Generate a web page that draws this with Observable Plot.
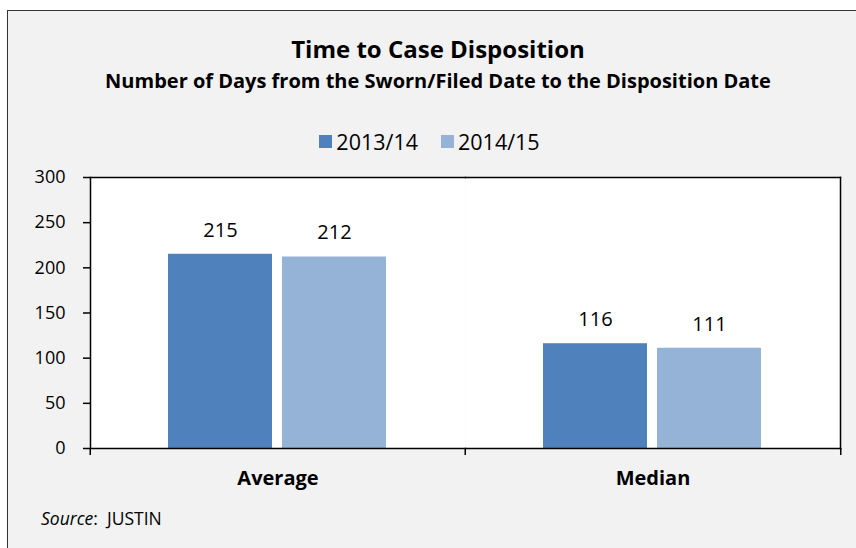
<!DOCTYPE html>
<html>
<head>
<meta charset="utf-8">
<script src="https://cdn.jsdelivr.net/npm/d3@7"></script>
<script src="https://cdn.jsdelivr.net/npm/@observablehq/plot@0.6"></script>
<style>
  html, body { margin: 0; padding: 0; background: #fff; overflow: hidden; width: 856px; height: 548px; }
  #box { position: absolute; left: 7px; top: 10px; width: 900px; height: 560px; background: #f2f2f2;
         border: 1px solid #333; box-sizing: border-box; font-family: "Open Sans", sans-serif; color: #000; }
  #title { position: absolute; left: 0; width: 860px; top: 22px; line-height: 32px; text-align: center;
           font-size: 24px; font-weight: bold; }
  #subtitle { position: absolute; left: 0; width: 860px; top: 57px; line-height: 26px; text-align: center;
              font-size: 20px; font-weight: bold; }
  #legend { position: absolute; left: 0; width: 843px; top: 116px; height: 26px; }
  #chart { position: absolute; left: -8px; top: 149px; }
  #source { position: absolute; left: 33px; top: 495px; line-height: 24px; font-size: 17.5px; white-space: pre; }
  .lg-swatches { display: flex !important; justify-content: center; font-family: "Open Sans", sans-serif !important;
                 font-size: 21.5px !important; color: #000; margin: 0 !important; min-height: 26px !important; }
  .lg-swatch { margin-right: 23px !important; }
  .lg-swatch:last-child { margin-right: 0 !important; }
  .lg-swatch > svg { margin-right: 4px !important; }
</style>
</head>
<body>
<div id="box">
  <div id="title"></div>
  <div id="subtitle"></div>
  <div id="legend"></div>
  <div id="chart"></div>
  <div id="source"></div>
</div>
<script>
const titleText = "Time to Case Disposition";
const subtitleText = "Number of Days from the Sworn/Filed Date to the Disposition Date";
const sourceLabel = "Source";
const sourceText = ":  JUSTIN";
const categories = ["Average", "Median"];
const seriesNames = ["2013/14", "2014/15"];
const values2013 = [215, 116];
const values2014 = [212, 111];
const yTicks = [0, 50, 100, 150, 200, 250, 300];
const colors = ["#4f81bd", "#95b3d7"];

document.getElementById("title").textContent = titleText;
document.getElementById("subtitle").textContent = subtitleText;
const src = document.getElementById("source");
const em = document.createElement("i");
em.textContent = sourceLabel;
src.appendChild(em);
src.appendChild(document.createTextNode(sourceText));

const data = categories.flatMap((c, i) => [
  {category: c, series: seriesNames[0], value: values2013[i]},
  {category: c, series: seriesNames[1], value: values2014[i]}
]);

const W = 856, H = 340, mL = 89, mR = 16, mT = 17, mB = 52;
const facetBand = (W - mL - mR) / categories.length;
const line = {stroke: "#000", strokeWidth: 1.5};

const legend = Plot.legend({
  color: {domain: seriesNames, range: colors},
  legend: "swatches",
  swatchSize: 13,
  className: "lg"
});
document.getElementById("legend").appendChild(legend);

const chart = Plot.plot({
  width: W, height: H,
  marginLeft: mL, marginRight: mR, marginTop: mT, marginBottom: mB,
  style: {fontFamily: '"Open Sans", sans-serif', fontSize: "18px", color: "#000", background: "transparent", overflow: "visible"},
  fx: {domain: categories, padding: 0, label: null},
  x: {domain: seriesNames, paddingInner: 0.087, paddingOuter: 0.676, axis: null},
  y: {domain: [0, 300], label: null},
  color: {domain: seriesNames, range: colors},
  marks: [
    Plot.frame({fill: "white"}),
    Plot.barY(data, {fx: "category", x: "series", y: "value", fill: "series"}),
    Plot.text(data, {fx: "category", x: "series", y: "value", text: d => String(d.value), dy: -24, fontSize: 20, fill: "#000"}),
    Plot.frame({anchor: "top", ...line}),
    Plot.frame({anchor: "bottom", ...line}),
    Plot.frame({anchor: "left", facetAnchor: "left", ...line}),
    Plot.frame({anchor: "right", facetAnchor: "right", ...line}),
    Plot.axisY({ticks: yTicks, tickSize: 7, tickPadding: 18, label: null, strokeWidth: 1.5}),
    Plot.axisFx({anchor: "bottom", tickSize: 0, tickPadding: 22, label: null, fontWeight: "bold", fontSize: 20}),
    Plot.axisFx({anchor: "bottom", tickSize: 7, tickFormat: () => "", label: null, dx: -facetBand / 2, strokeWidth: 1.5}),
    Plot.axisFx({anchor: "bottom", ticks: [categories[categories.length - 1]], tickSize: 7, tickFormat: () => "", label: null, dx: facetBand / 2, strokeWidth: 1.5})
  ]
});
document.getElementById("chart").appendChild(chart);
</script>
</body>
</html>
